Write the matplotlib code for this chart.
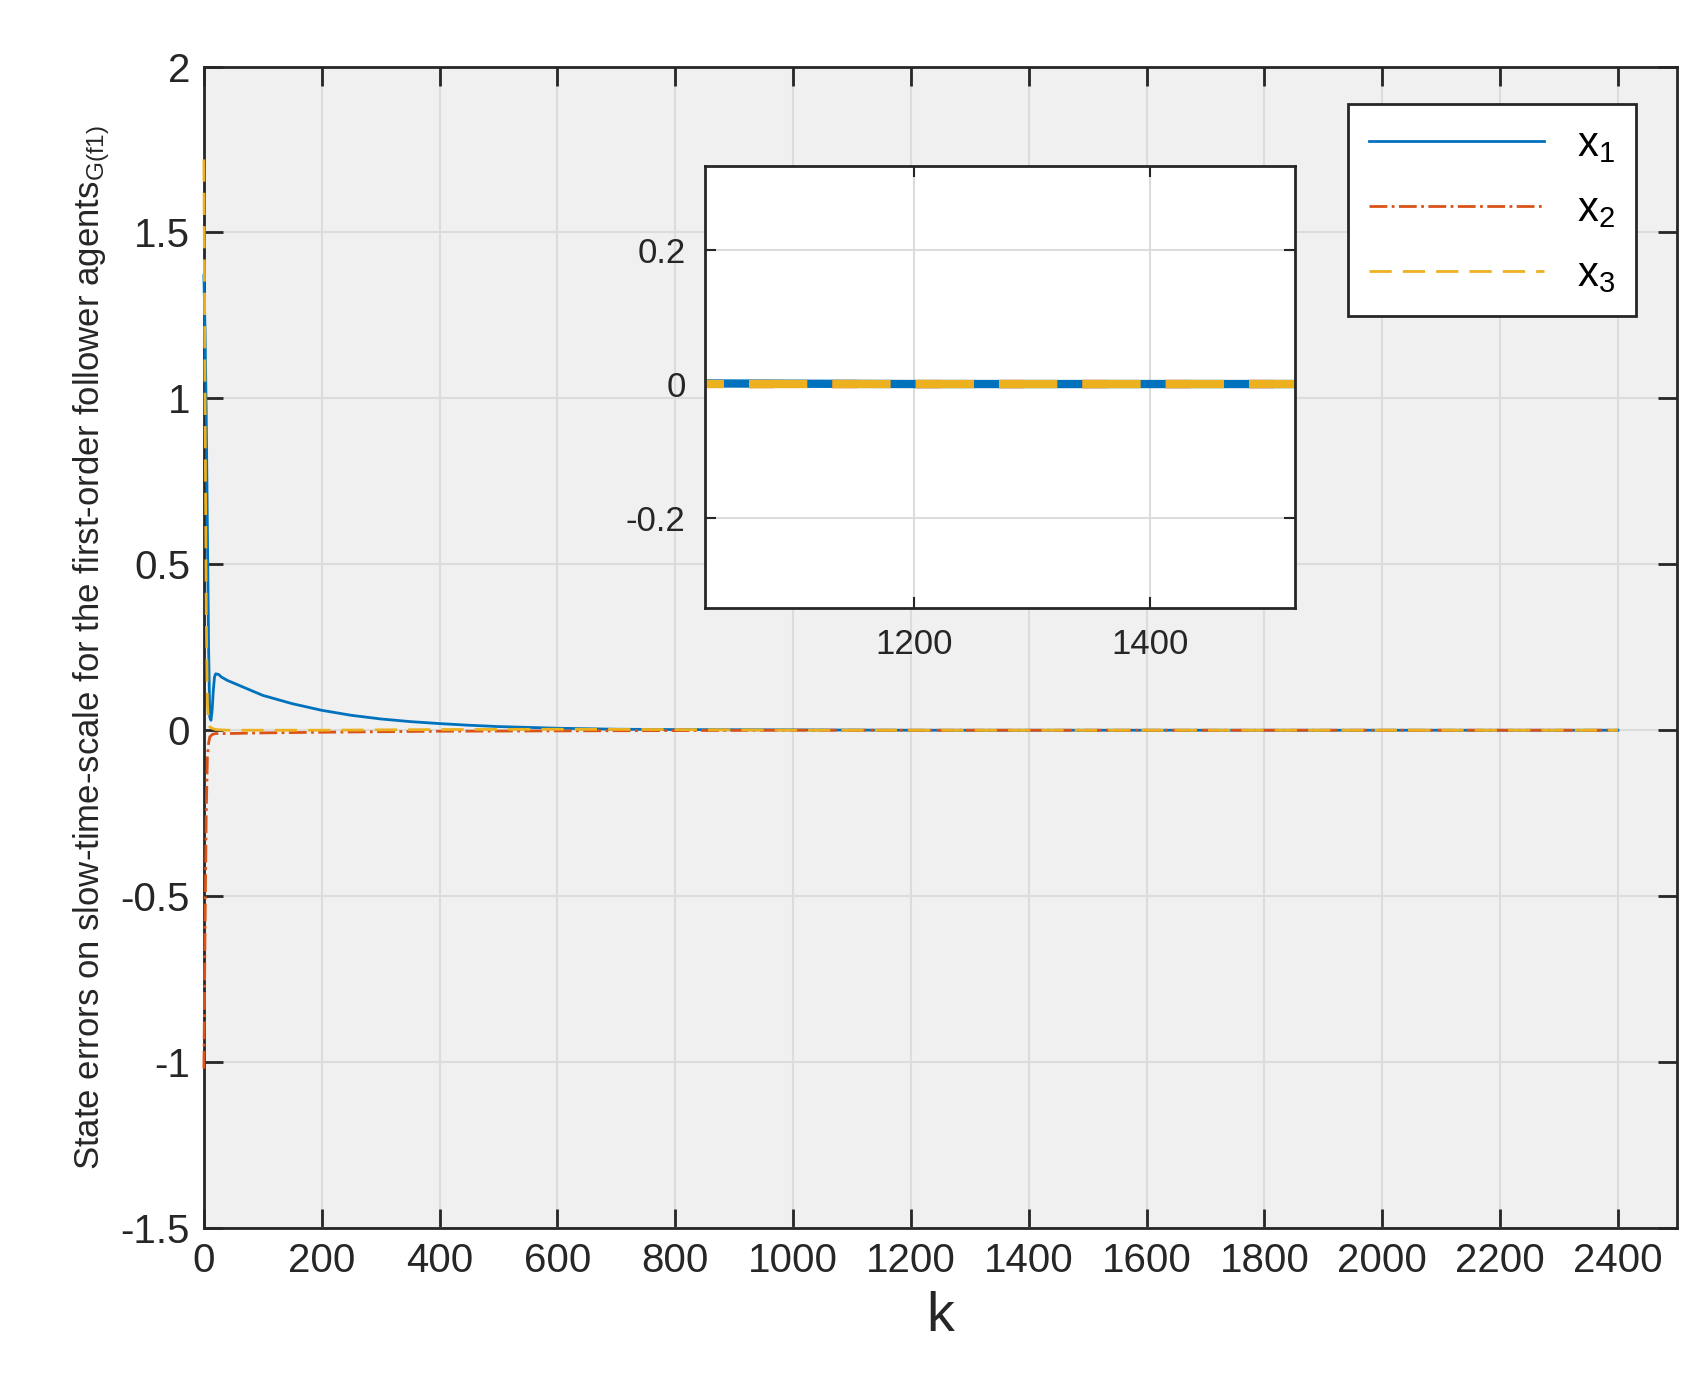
import matplotlib
matplotlib.use("Agg")
import matplotlib.pyplot as plt

plt.rcParams["font.family"] = ["Liberation Sans", "DejaVu Sans"]
plt.rcParams["mathtext.fontset"] = "custom"
plt.rcParams["mathtext.rm"] = "Liberation Sans"
plt.rcParams["mathtext.it"] = "Liberation Sans"

k1 = [0, 2, 4, 6, 8, 10, 12, 14, 16, 18, 20, 25, 30, 40, 60, 80, 100, 150, 200, 250, 300,
      350, 400, 450, 500, 600, 700, 800, 1000, 1200, 1600, 2000, 2400]
x1 = [1.37, 1.2, 0.95, 0.6, 0.25, 0.04, 0.03, 0.06, 0.12, 0.16, 0.17, 0.168, 0.16, 0.15,
      0.135, 0.12, 0.105, 0.08, 0.06, 0.045, 0.034, 0.026, 0.02, 0.015, 0.011, 0.006,
      0.003, 0.002, 0.001, 0.0, 0.0, 0.0, 0.0]
k2 = [0, 2, 4, 6, 8, 10, 15, 20, 40, 100, 200, 400, 600, 800, 1000, 1200, 1600, 2000, 2400]
x2 = [-1.02, -0.6, -0.25, -0.08, -0.04, -0.02, -0.012, -0.01, -0.01, -0.008, -0.006,
      -0.003, -0.002, -0.001, 0.0, 0.0, 0.0, 0.0, 0.0]
k3 = [0, 2, 4, 6, 8, 10, 15, 20, 40, 100, 200, 400, 600, 800, 1000, 1200, 1600, 2000, 2400]
x3 = [1.72, 1.0, 0.35, 0.08, 0.02, 0.01, 0.005, 0.002, 0.0, 0.0, 0.0, 0.002, 0.003,
      0.002, 0.0, 0.0, 0.0, 0.0, 0.0]

blue, red, yellow = "#0072BD", "#D95319", "#EDB120"
bg = "#f0f0f0"

fig = plt.figure(figsize=(16.99, 13.86), dpi=100)
ax = fig.add_axes([0.120, 0.114, 0.867, 0.838])
ax.set_facecolor(bg)
ax.plot(k1, x1, color=blue, lw=2, label="x$_1$", clip_on=False, zorder=5)
ax.plot(k2, x2, color=red, lw=2, ls="-.", label="x$_2$", clip_on=False, zorder=5)
ax.plot(k3, x3, color=yellow, lw=2, ls=(0, (8, 4)), label="x$_3$", clip_on=False, zorder=5)
ax.set_xlim(0, 2500)
ax.set_ylim(-1.5, 2)
ax.set_xticks(range(0, 2401, 200))
ax.set_yticks([-1.5, -1, -0.5, 0, 0.5, 1, 1.5, 2])
ax.set_yticklabels(["-1.5", "-1", "-0.5", "0", "0.5", "1", "1.5", "2"])
ax.grid(True, color="#dcdcdc", lw=1.5)
ax.tick_params(direction="in", length=14, width=2, labelsize=29, top=True, right=True,
               color="#262626", labelcolor="#262626", pad=10)
for s in ax.spines.values():
    s.set_linewidth(2)
    s.set_color("#262626")
ax.set_xlabel("k", fontsize=40, color="#262626", labelpad=8)
ax.set_ylabel("State errors on slow-time-scale for the first-order follower agents$_{G(f1)}$",
              fontsize=25, color="#262626", labelpad=6)
leg = ax.legend(loc="upper right", fontsize=30, fancybox=False, edgecolor="#262626",
                handlelength=4.2, borderpad=0.5, labelspacing=0.6, framealpha=1,
                bbox_to_anchor=(0.9865, 0.9855))
leg.get_frame().set_linewidth(2)

# zoomed inset
ins = fig.add_axes([0.415, 0.561, 0.347, 0.319])
ins.plot(k1, x1, color=blue, lw=6)
ins.plot(k2, x2, color=red, lw=6, ls=(0, (3, 7)))
ins.plot(k3, x3, color=yellow, lw=6, ls=(0, (7, 3)))
ins.set_xlim(1023, 1523)
ins.set_ylim(-0.335, 0.325)
ins.set_xticks([1200, 1400])
ins.set_yticks([-0.2, 0, 0.2])
ins.set_yticklabels(["-0.2", "0", "0.2"])
ins.grid(True, color="#dcdcdc", lw=1.5)
ins.tick_params(direction="in", length=8, width=1.5, labelsize=25, top=True, right=True,
                color="#262626", labelcolor="#262626", pad=14)
for s in ins.spines.values():
    s.set_linewidth(2)
    s.set_color("#262626")

fig.savefig("out.png", dpi=100)
